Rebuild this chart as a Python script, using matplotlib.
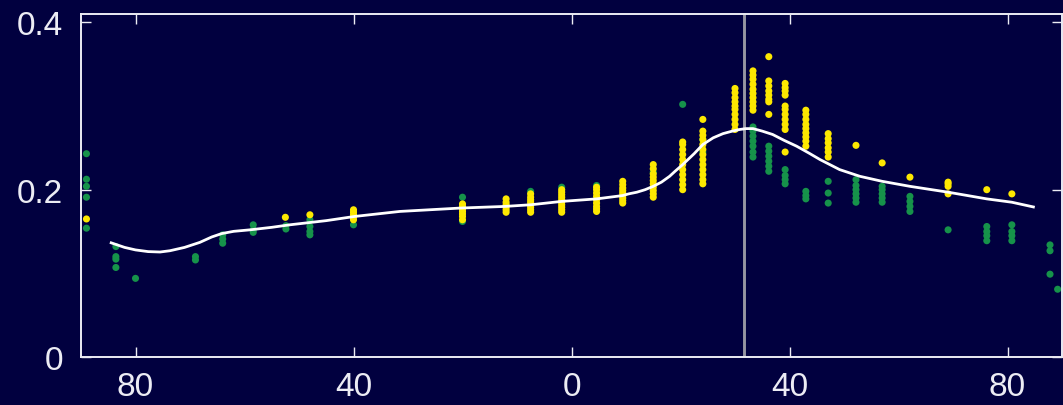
import matplotlib
matplotlib.use("Agg")
import matplotlib.pyplot as plt
import numpy as np

plt.rcParams['font.family'] = ['Liberation Sans', 'DejaVu Sans']

# ---- data ----
yellow_lat = ([-89, -52.5, -48] + [-40]*5 + [-20]*7 + [-12]*6 + [-7.5]*8 + [-1.8]*10 +
              [4.6]*9 + [9.4]*9 + [15]*10 + [20.4]*11 + [24.1]*13 + [30]*10 + [33.3]*10 +
              [36.2]*8 + [39.2]*11 + [43]*9 + [47.1]*6 + [52.2, 57, 62.1] + [69.1]*4 + [76.2, 80.8])
yellow_val = ([0.165, 0.167, 0.170] +
              [0.164, 0.167, 0.170, 0.173, 0.176] +
              [0.164, 0.168, 0.171, 0.174, 0.177, 0.180, 0.183] +
              [0.173, 0.176, 0.179, 0.182, 0.185, 0.189] +
              [0.173, 0.176, 0.179, 0.182, 0.185, 0.188, 0.191, 0.195] +
              [0.173, 0.176, 0.179, 0.182, 0.185, 0.188, 0.191, 0.194, 0.197, 0.200] +
              [0.174, 0.177, 0.180, 0.184, 0.188, 0.192, 0.196, 0.200, 0.203] +
              [0.184, 0.187, 0.190, 0.193, 0.196, 0.199, 0.202, 0.206, 0.210] +
              [0.191, 0.195, 0.199, 0.203, 0.207, 0.211, 0.215, 0.219, 0.225, 0.230] +
              [0.200, 0.206, 0.212, 0.218, 0.224, 0.230, 0.236, 0.242, 0.248, 0.254, 0.257] +
              [0.207, 0.212, 0.218, 0.224, 0.230, 0.236, 0.242, 0.248, 0.254, 0.260, 0.265, 0.270, 0.284] +
              [0.272, 0.278, 0.284, 0.290, 0.296, 0.300, 0.305, 0.310, 0.316, 0.321] +
              [0.295, 0.300, 0.305, 0.310, 0.315, 0.320, 0.326, 0.332, 0.337, 0.342] +
              [0.290, 0.305, 0.308, 0.313, 0.318, 0.324, 0.330, 0.359] +
              [0.245, 0.272, 0.278, 0.284, 0.290, 0.296, 0.300, 0.313, 0.318, 0.322, 0.327] +
              [0.252, 0.258, 0.263, 0.268, 0.273, 0.278, 0.284, 0.290, 0.295] +
              [0.239, 0.245, 0.250, 0.256, 0.261, 0.267] +
              [0.253, 0.232, 0.215] +
              [0.195, 0.204, 0.207, 0.209] +
              [0.200, 0.195])

green_lat = ([-89]*5 + [-83.6]*4 + [-80] + [-69]*2 + [-64]*3 + [-58.4]*3 + [-52.4]*2 +
             [-48]*4 + [-40]*2 + [-20]*2 + [-7.5, -1.8, 4.6, 15, 20.4] + [24.1]*2 +
             [33.3]*7 + [36.2]*6 + [39.2]*4 + [43]*3 + [47.1]*3 + [52.2]*6 + [57]*5 +
             [62.1]*4 + [69.1] + [76.2]*4 + [80.8]*4 + [87.8]*3 + [89.2])
green_val = ([0.243, 0.2125, 0.204, 0.191, 0.154] +
             [0.132, 0.120, 0.117, 0.107] +
             [0.094] +
             [0.120, 0.116] +
             [0.146, 0.141, 0.136] +
             [0.158, 0.152, 0.149] +
             [0.157, 0.153] +
             [0.164, 0.156, 0.150, 0.146] +
             [0.174, 0.158] +
             [0.191, 0.162] +
             [0.198, 0.203, 0.205, 0.221, 0.302] +
             [0.245, 0.260] +
             [0.239, 0.245, 0.252, 0.258, 0.264, 0.270, 0.275] +
             [0.222, 0.228, 0.234, 0.240, 0.246, 0.252] +
             [0.207, 0.212, 0.217, 0.224] +
             [0.189, 0.193, 0.198] +
             [0.184, 0.196, 0.210] +
             [0.185, 0.190, 0.195, 0.200, 0.205, 0.212] +
             [0.185, 0.190, 0.195, 0.200, 0.204] +
             [0.174, 0.180, 0.186, 0.192] +
             [0.152] +
             [0.139, 0.145, 0.150, 0.156] +
             [0.139, 0.145, 0.150, 0.158] +
             [0.134, 0.127, 0.099] +
             [0.081])

curve_lat = [-84.7, -82, -80, -77.7, -75.5, -73.7, -71, -68.2, -66, -64.2, -62, -59, -55,
             -51.7, -45, -39.8, -31.5, -20.5, -12.2, -7.4, -1.8, 4.6, 9.4, 10.5, 12, 13.5,
             15, 16.5, 18, 19, 20.4, 22.5, 24.1, 26, 27.8, 29.5, 30.9, 32, 33.3, 35, 36.9,
             39, 41.3, 43.5, 45.6, 49.2, 52.9, 57, 62.1, 69.1, 76.2, 80.8, 85]
curve_val = [0.137, 0.131, 0.128, 0.126, 0.1255, 0.127, 0.131, 0.137, 0.1435, 0.1475, 0.1502,
             0.152, 0.155, 0.158, 0.163, 0.168, 0.174, 0.178, 0.180, 0.182, 0.186, 0.189,
             0.193, 0.195, 0.197, 0.200, 0.204, 0.209, 0.216, 0.222, 0.230, 0.243, 0.254,
             0.262, 0.267, 0.270, 0.272, 0.273, 0.273, 0.270, 0.266, 0.259, 0.252, 0.244,
             0.236, 0.224, 0.216, 0.210, 0.204, 0.197, 0.189, 0.185, 0.179]

vline_lat = 31.7
x_ticks = [-80, -40, 0, 40, 80]
x_ticklabels = ['80', '40', '0', '40', '80']
y_ticks = [0, 0.2, 0.4]
y_ticklabels = ['0', '0.2', '0.4']

# ---- style ----
bg = '#01003f'
fg = '#ececf4'

fig = plt.figure(figsize=(10.63, 4.06), dpi=100, facecolor=bg)
ax = fig.add_axes([81/1063, 1 - 358/406, (1062 - 81)/1063, (358 - 15)/406])
ax.set_facecolor(bg)

ax.axvline(vline_lat, color='#9696a2', lw=2.1, zorder=1)
ax.scatter(green_lat, green_val, s=26, color='#16924a', edgecolors='none', zorder=2)
ax.scatter(yellow_lat, yellow_val, s=26, color='#fde800', edgecolors='none', zorder=3)
ax.plot(curve_lat, curve_val, color='white', lw=2.0, zorder=4, solid_capstyle='butt',
        solid_joinstyle='round')

ax.set_xlim(-90, 90)
ax.set_ylim(0, 0.41)
ax.set_xticks(x_ticks)
ax.set_xticklabels(x_ticklabels)
ax.set_yticks(y_ticks)
ax.set_yticklabels(y_ticklabels)

for s in ax.spines.values():
    s.set_color(fg)
    s.set_linewidth(1.4)

ax.tick_params(axis='both', which='major', direction='in', length=7.2, width=1.0,
               color=fg, labelcolor=fg, labelsize=24, top=True, right=True)
ax.tick_params(axis='x', pad=10)
ax.tick_params(axis='y', pad=13)

fig.savefig('out.png', dpi=100, facecolor=bg)
